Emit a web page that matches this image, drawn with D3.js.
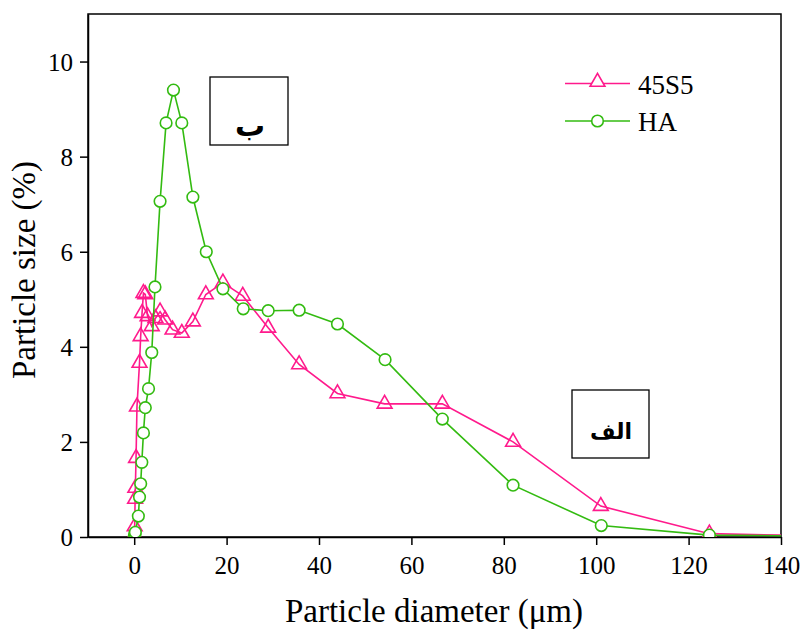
<!DOCTYPE html>
<html><head><meta charset="utf-8">
<script src="https://cdn.jsdelivr.net/npm/d3@7"></script>
<style>body{margin:0;background:#fff}</style>
</head><body><svg id="c" width="802" height="630"></svg>
<script>
const seriesNames = ["45S5", "HA"];
const x45S5 = [0.05,0.1,0.2,0.25,0.4,0.6,1.15,1.4,1.7,2.0,2.4,2.9,3.8,4.6,5.6,6.7,8.3,10.3,12.7,15.5,19.2,23.5,29,35.7,44,54.2,66.7,82,101,124.5,150];
const y45S5 = [0.05,0.22,0.8,1.03,1.66,2.74,3.66,4.22,4.71,5.13,5.1,4.64,4.43,4.6,4.74,4.57,4.36,4.29,4.53,5.1,5.35,5.07,4.4,3.63,3.02,2.8,2.8,2.0,0.65,0.07,0.02];
const xHA = [0.05,0.15,0.25,0.9,1.15,1.4,1.65,2.0,2.4,3.1,3.8,4.5,5.6,6.9,8.5,10.3,12.7,15.6,19.2,23.6,29,35.7,44,54.3,66.7,82,101.1,124.5,150];
const yHA = [0.02,0.06,0.1,0.44,0.84,1.12,1.57,2.19,2.72,3.12,3.88,5.26,7.06,8.71,9.4,8.71,7.15,6.0,5.22,4.8,4.76,4.77,4.48,3.73,2.48,1.09,0.24,0.04,0.02];
const xTicks = [0,20,40,60,80,100,120,140];
const yTicks = [0,2,4,6,8,10];
const boxLabels = ["ب","الف"];

const colors = {"45S5":"#ff1a8c","HA":"#33bb11"};
const font = "'Liberation Serif','Times New Roman',serif";
const svg = d3.select("#c");
const L=88,R=781,T=14,B=537;
const x = d3.scaleLinear().domain([-10,140]).range([L,R]);
const y = d3.scaleLinear().domain([0,11]).range([B,T]);

svg.append("defs").append("clipPath").attr("id","clip")
  .append("rect").attr("x",L).attr("y",T).attr("width",R-L).attr("height",B-T);

svg.append("rect").attr("x",L).attr("y",T).attr("width",R-L).attr("height",B-T)
  .attr("fill","none").attr("stroke","#000").attr("stroke-width",1.5);

const xa = svg.append("g").attr("transform",`translate(0,${B})`)
  .call(d3.axisBottom(x).tickValues(xTicks).tickSize(8).tickSizeOuter(0).tickFormat(d3.format("d")));
const ya = svg.append("g").attr("transform",`translate(${L},0)`)
  .call(d3.axisLeft(y).tickValues(yTicks).tickSize(8).tickSizeOuter(0).tickFormat(d3.format("d")));
[xa,ya].forEach(a=>{
  a.select(".domain").attr("stroke","#000").attr("stroke-width",1.5);
  a.selectAll(".tick line").attr("stroke","#000").attr("stroke-width",1.5);
  a.selectAll(".tick text").attr("font-family",font).attr("font-size",25).attr("fill","#000");
});
xa.selectAll(".tick text").attr("dy",null).attr("y",37);
ya.selectAll(".tick text").attr("x",-15).attr("dy","0.34em");

svg.append("text").attr("x",434).attr("y",622).attr("text-anchor","middle")
  .attr("font-family",font).attr("font-size",33).text("Particle diameter (μm)");
svg.append("text").attr("transform","translate(35,270) rotate(-90)").attr("text-anchor","middle")
  .attr("font-family",font).attr("font-size",33).text("Particle size (%)");

const tri = d3.symbol().type(d3.symbolTriangle).size(95);
const data = {
  "45S5": x45S5.map((v,i)=>[v,y45S5[i]]),
  "HA": xHA.map((v,i)=>[v,yHA[i]])
};
const line = d3.line().x(d=>x(d[0])).y(d=>y(d[1]));
const plot = svg.append("g").attr("clip-path","url(#clip)");
seriesNames.forEach(name=>{
  const g = plot.append("g");
  g.append("path").datum(data[name]).attr("d",line).attr("fill","none")
    .attr("stroke",colors[name]).attr("stroke-width",1.6);
  if(name==="45S5"){
    g.selectAll("path.m").data(data[name]).join("path").attr("class","m")
      .attr("d",tri).attr("transform",d=>`translate(${x(d[0])},${y(d[1])})`)
      .attr("fill","none").attr("stroke",colors[name]).attr("stroke-width",1.6);
  } else {
    g.selectAll("circle").data(data[name]).join("circle")
      .attr("cx",d=>x(d[0])).attr("cy",d=>y(d[1])).attr("r",5.8)
      .attr("fill","#fff").attr("stroke",colors[name]).attr("stroke-width",1.6);
  }
});

const lg = svg.append("g");
seriesNames.forEach((name,i)=>{
  const ly = 83.5 + i*37.5;
  lg.append("line").attr("x1",565).attr("x2",630).attr("y1",ly).attr("y2",ly)
    .attr("stroke",colors[name]).attr("stroke-width",1.6);
  if(name==="45S5"){
    lg.append("path").attr("d",tri).attr("transform",`translate(597.5,${ly-1.5})`)
      .attr("fill","#fff").attr("stroke",colors[name]).attr("stroke-width",1.6);
  } else {
    lg.append("circle").attr("cx",597.5).attr("cy",ly).attr("r",5.8)
      .attr("fill","#fff").attr("stroke",colors[name]).attr("stroke-width",1.6);
  }
  lg.append("text").attr("x",638).attr("y",ly+10).attr("font-family",font)
    .attr("font-size",27).text(name);
});

const boxes = [{x:210,y:77,w:78,h:68,t:boxLabels[0],fs:30,cx:250,cy:125},
               {x:572,y:390,w:77,h:68,t:boxLabels[1],fs:22,cx:611,cy:431}];
boxes.forEach(b=>{
  svg.append("rect").attr("x",b.x).attr("y",b.y).attr("width",b.w).attr("height",b.h)
    .attr("fill","#fff").attr("stroke","#000").attr("stroke-width",1.3);
  svg.append("text").attr("x",b.cx).attr("y",b.cy).attr("text-anchor","middle")
    .attr("dominant-baseline","central")
    .attr("font-family","'DejaVu Sans',sans-serif").attr("font-weight","bold").attr("font-size",b.fs)
    .attr("direction","rtl").text(b.t);
});
</script></body></html>
